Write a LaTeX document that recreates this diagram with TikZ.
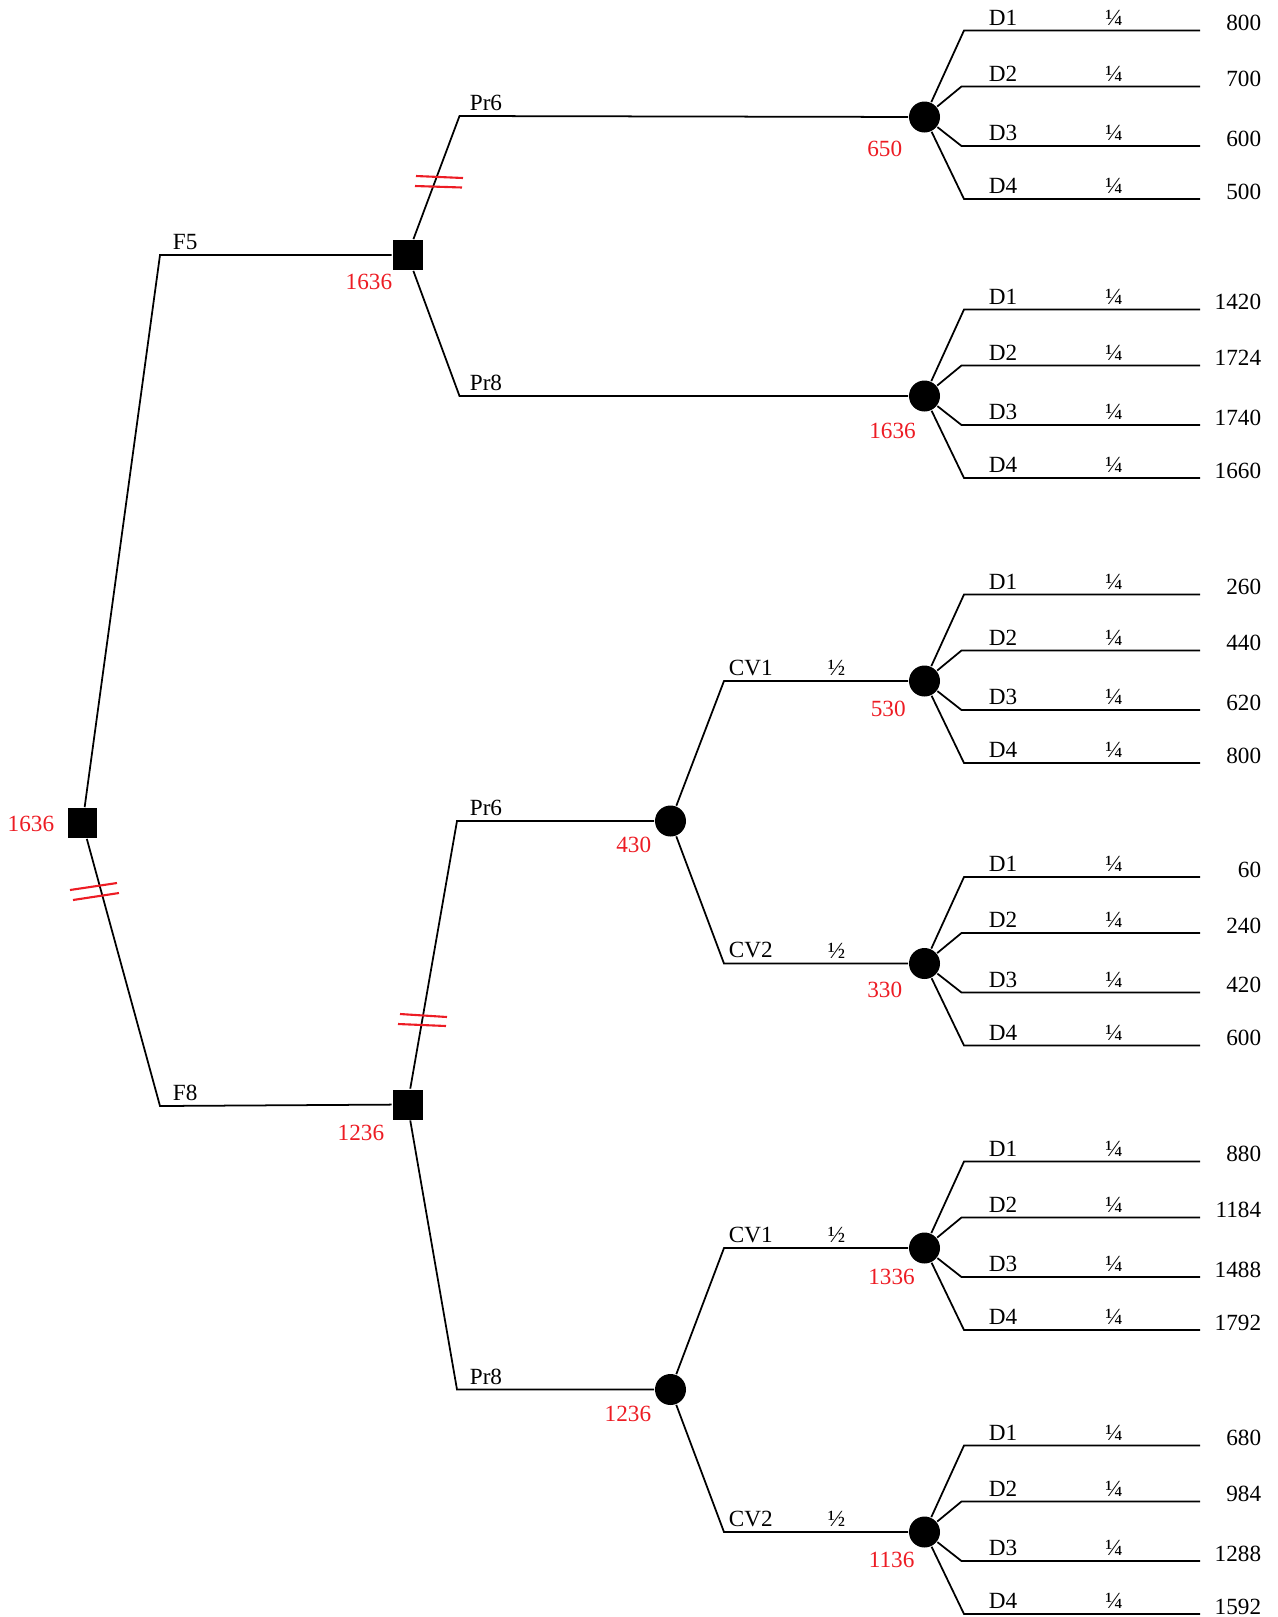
\documentclass[tikz,border=0pt]{standalone}
\usepackage{fontspec}
\setmainfont{Liberation Serif}
\definecolor{valred}{RGB}{237,28,36}
\tikzset{
  dec/.style={rectangle, fill=black, minimum size=0.6cm, inner sep=0pt},
  chance/.style={circle, fill=black, minimum size=0.62cm, inner sep=0pt},
  lab/.style={anchor=south west, inner xsep=0pt, inner ysep=2.5pt},
  ev/.style={text=valred, inner sep=0pt},
  cut/.style={draw=valred, line width=1.2pt},
}
\begin{document}
\begin{tikzpicture}[x=0.02cm, y=-0.02cm, line width=1pt, every node/.append style={font=\fontsize{13.2}{15}\selectfont}]
	\useasboundingbox (0,0) rectangle (1278,1617);
	
	% decisions and chance nodes
	\node[dec] (r) at (82.5,823) {};
	\node[dec] (s5) at (407.5,255) {};
	\node[dec] (s8) at (407.5,1104.5) {};
	\node[chance] (c1) at (924.5,117) {};
	\node[chance] (c2) at (924.5,396) {};
	\node[chance] (c3) at (670.5,821) {};
	\node[chance] (c4) at (670.5,1389.5) {};
	\node[chance] (c31) at (924.5,681) {};
	\node[chance] (c32) at (924.5,963.5) {};
	\node[chance] (c41) at (924.5,1248) {};
	\node[chance] (c42) at (924.5,1532) {};
	
	\draw (r) -- (160,255) coordinate (f5) node[lab, xshift=0.24cm] {F5} -- (s5);
	\draw (r) -- (160,1106) coordinate (f8) node[lab, xshift=0.24cm] {F8} -- (s8);
	
	\draw (s5) -- (459.5,116) coordinate (p6a) node[lab, xshift=0.19cm] {Pr6} -- (c1);
	\draw (s5) -- (459.5,396) coordinate (p8a) node[lab, xshift=0.19cm] {Pr8} -- (c2);
	\draw (s8) -- (457,821) coordinate (p6b) node[lab, xshift=0.24cm] {Pr6} -- (c3);
	\draw (s8) -- (457,1389.5) coordinate (p8b) node[lab, xshift=0.24cm] {Pr8} -- (c4);
	
	\draw (c3) -- (724,681) coordinate (v1a) node[lab, xshift=0.08cm] {CV1} node[lab, anchor=south, xshift=2.254cm] {½} -- (c31);
	\draw (c3) -- (724,963.5) coordinate (v2a) node[lab, xshift=0.08cm] {CV2} node[lab, anchor=south, xshift=2.254cm] {½} -- (c32);
	\draw (c4) -- (724,1248) coordinate (v1b) node[lab, xshift=0.08cm] {CV1} node[lab, anchor=south, xshift=2.254cm] {½} -- (c41);
	\draw (c4) -- (724,1532) coordinate (v2b) node[lab, xshift=0.08cm] {CV2} node[lab, anchor=south, xshift=2.254cm] {½} -- (c42);
	
	% demand branches
	\coordinate (endx) at (1200,0);
	\foreach \ch/\va/\vb/\vc/\vd in {c1/800/700/600/500, c2/1420/1724/1740/1660, c31/260/440/620/800, c32/60/240/420/600, c41/880/1184/1488/1792, c42/680/984/1288/1592}{
		\foreach \i/\dx/\dy/\val in {1/39.5/-86.5/\va, 2/37/-30.5/\vb, 3/37/29/\vc, 4/39.5/82/\vd}{
			\draw (\ch) -- ++(\dx,\dy) coordinate (\ch d\i) -- (\ch d\i -| endx) coordinate (\ch e\i);
			\node[lab] (\ch l\i) at ([shift={(63.5,\dy)}]\ch) {D\i};
			\node[lab, anchor=south] (\ch q\i) at ([shift={(189.5,\dy)}]\ch) {¼};
			\node[anchor=base east, inner sep=0pt] (\ch v\i) at ([shift={(337.5,\dy)}]\ch) {\val};
		}
	}
	
	% expected values
	\node[ev, anchor=base east] (rv) at (55,831) {1636};
	\node[ev, anchor=base east] (s5v) at (393,289) {1636};
	\node[ev, anchor=base east] (s8v) at (385,1140) {1236};
	\node[ev, anchor=base east] (c3v) at (652,852.5) {430};
	\node[ev, anchor=base east] (c4v) at (652,1421.5) {1236};
	\node[ev, anchor=base west] (c1v) at (866.5,156) {650};
	\node[ev, anchor=base west] (c2v) at (868.5,438.5) {1636};
	\node[ev, anchor=base west] (c31v) at (870,716) {530};
	\node[ev, anchor=base west] (c32v) at (866.5,997.5) {330};
	\node[ev, anchor=base west] (c41v) at (867.5,1284.5) {1336};
	\node[ev, anchor=base west] (c42v) at (868,1567) {1136};
	
	% pruned branches
	\draw[cut] (70,890) -- (117,883) (73,900) -- (119,893);
	\draw[cut] (416,176) -- (463,178) (415,186) -- (462,187.5);
	\draw[cut] (400,1014) -- (447,1017) (398,1024) -- (446,1026);
\end{tikzpicture}
\end{document}
